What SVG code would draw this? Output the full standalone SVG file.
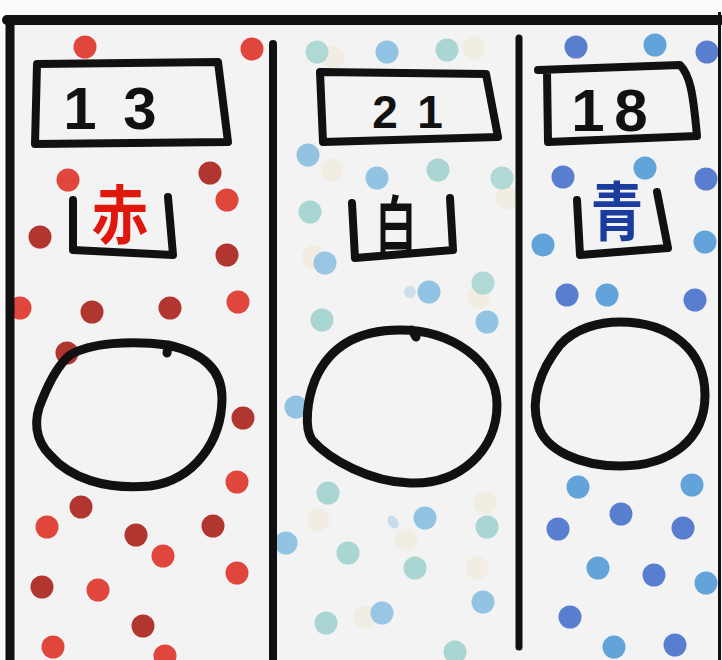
<svg xmlns="http://www.w3.org/2000/svg" width="722" height="660" viewBox="0 0 722 660">
<style>
.ink{fill:none;stroke:#111;stroke-linecap:round;stroke-linejoin:round}
.r1{fill:#e0463b}.r2{fill:#b23630}
.t{fill:#a9d6d2}.b{fill:#92c3e2}.c{fill:#f1ede2}
.d{fill:#5a7ecf}.l{fill:#62a4d9}
.num{font-family:"Liberation Sans",Arial,sans-serif;font-weight:bold;fill:#111;text-anchor:middle}
.kanji{font-family:"Noto Sans CJK JP","Noto Sans CJK SC",sans-serif;font-weight:bold;text-anchor:middle}
</style>
<rect width="722" height="660" fill="#fbfbfb"/>
<rect x="8" y="20" width="714" height="640" fill="#f3f3f3"/>

<g id="dots-red">
<circle class="r1" cx="85" cy="47" r="11.5"/><circle class="r1" cx="252" cy="49" r="11.5"/>
<circle class="r1" cx="68" cy="180" r="11.5"/><circle class="r2" cx="210" cy="173" r="11.5"/>
<circle class="r1" cx="227" cy="200" r="11.5"/><circle class="r2" cx="40" cy="237" r="11.5"/>
<circle class="r2" cx="227" cy="255" r="11.5"/><circle class="r1" cx="20" cy="308" r="11.5"/>
<circle class="r2" cx="92" cy="312" r="11.5"/><circle class="r2" cx="170" cy="308" r="11.5"/>
<circle class="r1" cx="238" cy="302" r="11.5"/><circle class="r2" cx="67" cy="353" r="11.5"/>
<circle class="r2" cx="243" cy="418" r="11.5"/><circle class="r1" cx="237" cy="482" r="11.5"/>
<circle class="r2" cx="81" cy="507" r="11.5"/><circle class="r1" cx="47" cy="527" r="11.5"/>
<circle class="r2" cx="136" cy="535" r="11.5"/><circle class="r1" cx="163" cy="556" r="11.5"/>
<circle class="r2" cx="213" cy="526" r="11.5"/><circle class="r1" cx="237" cy="573" r="11.5"/>
<circle class="r2" cx="42" cy="587" r="11.5"/><circle class="r1" cx="98" cy="590" r="11.5"/>
<circle class="r2" cx="143" cy="626" r="11.5"/><circle class="r1" cx="53" cy="647" r="11.5"/>
<circle class="r1" cx="165" cy="656" r="11.5"/>
</g>

<g id="dots-white">
<circle class="c" cx="333" cy="57" r="11.5"/><circle class="t" cx="317" cy="52" r="11.5" opacity="0.9"/>
<circle class="b" cx="387" cy="52" r="11.5"/><circle class="c" cx="474" cy="48" r="11.5"/>
<circle class="t" cx="447" cy="50" r="11.5"/>
<circle class="b" cx="308" cy="155" r="11.5"/><circle class="c" cx="332" cy="170" r="11.5"/>
<circle class="b" cx="377" cy="178" r="11.5"/><circle class="t" cx="438" cy="170" r="11.5"/>
<circle class="c" cx="507" cy="198" r="11.5"/><circle class="t" cx="502" cy="178" r="11.5" opacity="0.9"/>
<circle class="t" cx="310" cy="212" r="11.5"/><circle class="c" cx="313" cy="257" r="11.5"/>
<circle class="b" cx="325" cy="263" r="11.5" opacity="0.95"/>
<circle class="b" cx="410" cy="292" r="6" opacity="0.4"/><circle class="b" cx="429" cy="292" r="11.5"/>
<circle class="c" cx="479" cy="297" r="11.5"/><circle class="t" cx="483" cy="283" r="11.5" opacity="0.9"/>
<circle class="t" cx="322" cy="320" r="11.5"/><circle class="b" cx="487" cy="322" r="11.5"/>
<circle class="b" cx="296" cy="407" r="11.5"/><circle class="t" cx="328" cy="493" r="11.5"/>
<circle class="c" cx="318" cy="520" r="11.5"/><circle class="b" cx="286" cy="543" r="11.5"/>
<ellipse class="b" cx="393" cy="522" rx="5" ry="7" transform="rotate(-35 393 522)" opacity="0.45"/>
<circle class="b" cx="425" cy="518" r="11.5"/><circle class="c" cx="406" cy="540" r="11.5"/>
<circle class="t" cx="348" cy="553" r="11.5"/><circle class="t" cx="415" cy="568" r="11.5"/>
<circle class="c" cx="485" cy="503" r="11.5"/><circle class="t" cx="487" cy="527" r="11.5"/>
<circle class="c" cx="477" cy="568" r="11.5"/><circle class="b" cx="483" cy="602" r="11.5"/>
<circle class="c" cx="365" cy="617" r="11.5"/><circle class="b" cx="382" cy="613" r="11.5" opacity="0.95"/>
<circle class="t" cx="326" cy="623" r="11.5"/><circle class="t" cx="455" cy="652" r="11.5"/>
</g>

<g id="dots-blue">
<circle class="d" cx="576" cy="47" r="11.5"/><circle class="l" cx="655" cy="45" r="11.5"/>
<circle class="d" cx="707" cy="52" r="11.5"/><circle class="d" cx="563" cy="177" r="11.5"/>
<circle class="l" cx="645" cy="168" r="11.5"/><circle class="d" cx="706" cy="179" r="11.5"/>
<circle class="l" cx="543" cy="245" r="11.5"/><circle class="l" cx="705" cy="242" r="11.5"/>
<circle class="d" cx="567" cy="295" r="11.5"/><circle class="l" cx="607" cy="295" r="11.5"/>
<circle class="d" cx="695" cy="300" r="11.5"/><circle class="l" cx="578" cy="487" r="11.5"/>
<circle class="l" cx="692" cy="485" r="11.5"/><circle class="d" cx="621" cy="514" r="11.5"/>
<circle class="d" cx="558" cy="529" r="11.5"/><circle class="d" cx="683" cy="528" r="11.5"/>
<circle class="l" cx="598" cy="568" r="11.5"/><circle class="d" cx="654" cy="575" r="11.5"/>
<circle class="l" cx="706" cy="583" r="11.5"/><circle class="d" cx="570" cy="617" r="11.5"/>
<circle class="l" cx="614" cy="647" r="11.5"/><circle class="d" cx="675" cy="645" r="11.5"/>
</g>

<g id="frame">
<path class="ink" d="M7,20 L722,20" stroke-width="10"/>
<path class="ink" d="M10,22 L10,662" stroke-width="9"/>
<path class="ink" d="M273,44 L273,662" stroke-width="8"/>
<path class="ink" d="M519,38 L519,647" stroke-width="7"/>
<path d="M719.5,12 L719.5,660" stroke="#111" stroke-width="3"/>
</g>

<g id="col-red">
<path class="ink" stroke-width="8" d="M37,64 L218,62 L228,142 L35,144 Z"/>
<text class="num" font-size="60"><tspan x="80 140" y="129">13</tspan></text>
<path class="ink" stroke-width="8" d="M73,200 L73,250 L173,255 L168,197"/>
<text class="kanji" x="120" y="238" font-size="64" fill="#e0170c" transform="translate(120 0) scale(0.88 1) translate(-120 0)">赤</text>
<path class="ink" stroke-width="9" d="M168,345 C200,352 222,368 222,398 C222,440 195,480 150,486 C105,490 70,478 50,455 C35,440 33,420 42,400 C50,380 58,365 70,355 C90,343 130,340 168,345 Z M168,345 L167,353"/>
</g>

<g id="col-white">
<path class="ink" stroke-width="8" d="M320,72 L486,74 L498,137 L323,142 Z"/>
<text class="num" font-size="46"><tspan x="385 430" y="128">21</tspan></text>
<path class="ink" stroke-width="8" d="M352,203 L355,258 L453,250 L450,198"/>
<text class="kanji" x="396" y="248" font-size="62" fill="#111" transform="translate(396 0) scale(0.66 1) translate(-396 0)">白</text>
<path class="ink" stroke-width="9" d="M400,330 C450,330 497,360 497,405 C497,450 460,485 410,483 C370,482 330,460 312,440 C304,428 307,400 315,380 C330,345 360,330 400,330 Z M412,330 L416,337"/>
</g>

<g id="col-blue">
<path class="ink" stroke-width="8" d="M538,70 L680,65 C690,75 693,92 697,136 L548,142 L547,71"/>
<text class="num" font-size="60"><tspan x="588 631" y="131">18</tspan></text>
<path class="ink" stroke-width="8" d="M577,200 L580,255 L668,248 L657,192"/>
<text class="kanji" x="617" y="235" font-size="64" fill="#1a3c9e" transform="translate(617 0) scale(0.82 1) translate(-617 0)">青</text>
<path class="ink" stroke-width="9" d="M620,322 C670,322 705,350 705,395 C705,440 670,466 620,466 C580,466 545,450 538,425 C530,400 540,370 560,345 C575,328 600,322 620,322 Z"/>
</g>
</svg>
